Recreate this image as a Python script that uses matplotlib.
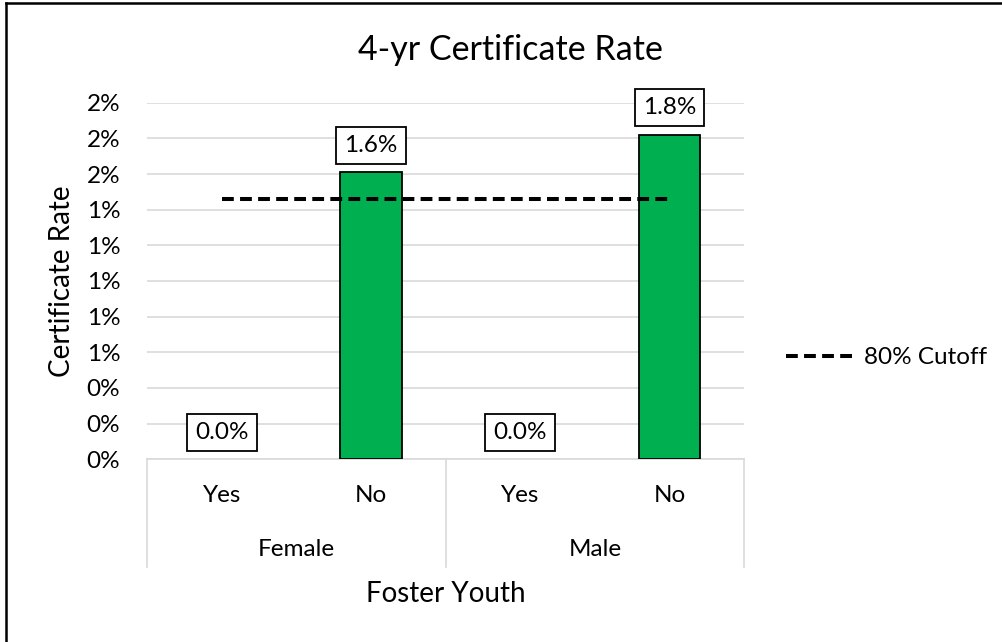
import matplotlib
matplotlib.use("Agg")
import matplotlib.pyplot as plt
from matplotlib.ticker import FuncFormatter, MultipleLocator
from matplotlib.lines import Line2D

plt.rcParams['font.family'] = ['Lato', 'DejaVu Sans']
plt.rcParams['lines.scale_dashes'] = False

# ---- data ----
title = "4-yr Certificate Rate"
groups = ["Female", "Male"]
subcats = ["Yes", "No", "Yes", "No"]
rates = [0.0, 1.61, 0.0, 1.82]          # percent
rate_labels = ["0.0%", "1.6%", "0.0%", "1.8%"]
cutoff = [1.46, 1.46, 1.46, 1.46]       # percent (80% cutoff)
cutoff_name = "80% Cutoff"
y_label = "Certificate Rate"
x_label = "Foster Youth"

W, H = 1002, 642
fig = plt.figure(figsize=(W / 100, H / 100), dpi=100)
ax_l, ax_r, ax_b, ax_t = 147.3, 744.0, 459.3, 102.7
ax = fig.add_axes([ax_l / W, 1 - ax_b / H, (ax_r - ax_l) / W, (ax_b - ax_t) / H])

x = list(range(len(subcats)))
grid_c = "#D9D9D9"
fs = 17.5

edges = ["black" if v > 0 else "none" for v in rates]
ax.bar(x, rates, width=0.41, color="#00B050", edgecolor=edges, linewidth=1.3, zorder=3)
ax.plot(x, cutoff, color="black", linewidth=2.9, dashes=(8.5, 4.5), zorder=4,
        label=cutoff_name)

ax.set_xlim(-0.5, len(subcats) - 0.5)
ax.set_ylim(0, 2.0)
ax.yaxis.set_major_locator(MultipleLocator(0.2))
ax.yaxis.set_major_formatter(FuncFormatter(lambda v, p: f"{v:.0f}%"))
ax.grid(axis="y", color=grid_c, linewidth=1.2, zorder=0)
ax.set_axisbelow(True)
for s in ["left", "right", "top"]:
    ax.spines[s].set_visible(False)
ax.spines["bottom"].set_color(grid_c)
ax.spines["bottom"].set_linewidth(1.2)
ax.tick_params(axis="y", length=0, pad=19.5, labelsize=fs)
ax.set_xticks([])

# data labels
for xi, v, lab in zip(x, rates, rate_labels):
    ax.annotate(lab, (xi, v), xytext=(0, 19.5), textcoords="offset points",
                ha="center", va="center", fontsize=fs, zorder=6,
                bbox=dict(boxstyle="square,pad=0.33", fc="white", ec="black", lw=1.3))

# category axis (two levels)
ah = ax_b - ax_t
tr = ax.get_xaxis_transform()
def yfrac(py):
    return (ax_b - py) / ah
for xi, lab in zip(x, subcats):
    ax.text(xi, yfrac(495.5), lab, transform=tr, ha="center", va="center", fontsize=fs)
n_per = len(subcats) // len(groups)
for gi, g in enumerate(groups):
    cx = gi * n_per + (n_per - 1) / 2
    ax.text(cx, yfrac(549), g, transform=tr, ha="center", va="center", fontsize=fs)
for bx in [-0.5 + i * n_per for i in range(len(groups) + 1)]:
    ax.plot([bx, bx], [0, yfrac(567)], transform=tr, color=grid_c, lw=1.2, clip_on=False)

# titles
fig.text(510 / W, 1 - 60 / H, title, ha="center", va="baseline", fontsize=24.5)
fig.text(445.6 / W, 1 - 602 / H, x_label, ha="center", va="baseline", fontsize=20)
fig.text(62 / W, 1 - 281 / H, y_label, ha="center", va="center", rotation=90, fontsize=20)

# legend
fig.legend(loc="center left", bbox_to_anchor=(786 / W, 1 - 357.7 / H), frameon=False,
           fontsize=fs, handlelength=2.86, handletextpad=0.33, borderpad=0, borderaxespad=0)

# chart border (top & left)
fig.add_artist(Line2D([6 / W, 6 / W], [0, 1 - 3 / H], transform=fig.transFigure,
                      color="black", lw=1.8))
fig.add_artist(Line2D([6 / W, 1], [1 - 3 / H, 1 - 3 / H], transform=fig.transFigure,
                      color="black", lw=1.8))

fig.savefig("out.png", dpi=100)
